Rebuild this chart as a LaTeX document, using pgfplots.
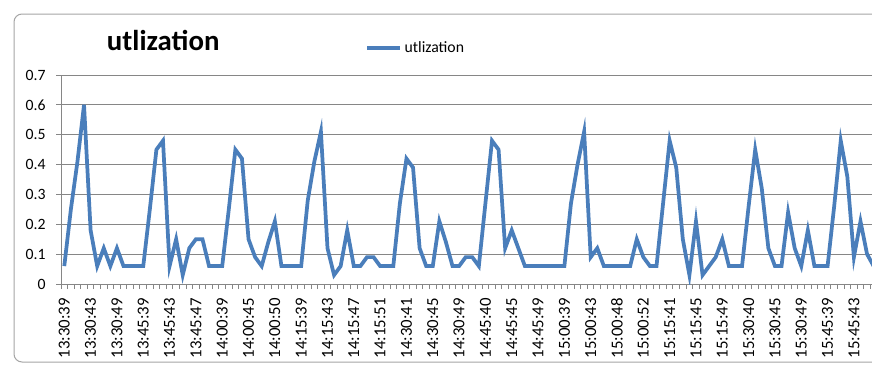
\documentclass[border=0pt]{standalone}
\usepackage{fontspec}
\setmainfont{Carlito}
\usepackage{pgfplots}
\pgfplotsset{compat=1.18}
\usepackage{pgfplotstable}

\definecolor{xlblue}{HTML}{4A7EBB}
\definecolor{xlgrid}{HTML}{868686}
\definecolor{xlframe}{HTML}{A5A5A5}

% utilisation samples, one per category (index 0..123)
\pgfplotstableread{
idx util
0 0.06
1 0.25
2 0.41
3 0.60
4 0.18
5 0.06
6 0.12
7 0.06
8 0.12
9 0.06
10 0.06
11 0.06
12 0.06
13 0.25
14 0.45
15 0.48
16 0.06
17 0.15
18 0.03
19 0.12
20 0.15
21 0.15
22 0.06
23 0.06
24 0.06
25 0.25
26 0.45
27 0.42
28 0.15
29 0.09
30 0.06
31 0.14
32 0.21
33 0.06
34 0.06
35 0.06
36 0.06
37 0.28
38 0.41
39 0.51
40 0.12
41 0.03
42 0.06
43 0.18
44 0.06
45 0.06
46 0.09
47 0.09
48 0.06
49 0.06
50 0.06
51 0.27
52 0.42
53 0.39
54 0.12
55 0.06
56 0.06
57 0.21
58 0.14
59 0.06
60 0.06
61 0.09
62 0.09
63 0.06
64 0.27
65 0.48
66 0.45
67 0.12
68 0.18
69 0.12
70 0.06
71 0.06
72 0.06
73 0.06
74 0.06
75 0.06
76 0.06
77 0.27
78 0.40
79 0.51
80 0.09
81 0.12
82 0.06
83 0.06
84 0.06
85 0.06
86 0.06
87 0.15
88 0.09
89 0.06
90 0.06
91 0.27
92 0.48
93 0.39
94 0.15
95 0.03
96 0.21
97 0.03
98 0.06
99 0.09
100 0.15
101 0.06
102 0.06
103 0.06
104 0.26
105 0.45
106 0.32
107 0.12
108 0.06
109 0.06
110 0.24
111 0.12
112 0.06
113 0.18
114 0.06
115 0.06
116 0.06
117 0.26
118 0.48
119 0.36
120 0.09
121 0.21
122 0.10
123 0.06
}\utildata

\begin{document}
\begin{tikzpicture}
\path[use as bounding box] (0,0) rectangle (654pt,276.75pt);
\clip (0,0) rectangle (654pt,276.75pt);
\fill[white] (0,0) rectangle (654pt,276.75pt);
% chart area frame (cut off on the right)
\draw[xlframe, line width=0.75pt, rounded corners=6pt]
  (670pt,5.25pt) -- (10.5pt,5.25pt) -- (10.5pt,266.25pt) -- (670pt,266.25pt);

\begin{axis}[
  at={(45.75pt,63.75pt)}, anchor=south west,
  scale only axis,
  width=608.25pt, height=156.75pt,
  xmin=-0.5, xmax=122.75,
  ymin=0, ymax=0.7,
  axis x line*=bottom, axis y line*=left,
  axis line style={xlgrid, line width=0.75pt},
  tick align=outside,
  major tick length=0pt,
  minor tick length=3.75pt,
  tick style={xlgrid, line width=0.75pt},
  ytick={0,0.1,0.2,0.3,0.4,0.5,0.6,0.7},
  yticklabels={0,0.1,0.2,0.3,0.4,0.5,0.6,0.7},
  minor ytick={0,0.1,0.2,0.3,0.4,0.5,0.6,0.7},
  ymajorgrids,
  major grid style={xlgrid, line width=0.75pt},
  xtick={0,4,...,120},
  xticklabels={13:30:39,13:30:43,13:30:49,13:45:39,13:45:43,13:45:47,14:00:39,14:00:45,14:00:50,14:15:39,14:15:43,14:15:47,14:15:51,14:30:41,14:30:45,14:30:49,14:45:40,14:45:45,14:45:49,15:00:39,15:00:43,15:00:48,15:00:52,15:15:41,15:15:45,15:15:49,15:30:40,15:30:45,15:30:49,15:45:39,15:45:43},
  minor xtick={-0.5,0.5,...,122.5},
  ticklabel style={font=\fontsize{11.8}{14}\selectfont, text=black},
  xticklabel style={rotate=90, anchor=east, font=\fontsize{12.6}{14}\selectfont},
  xticklabel shift=7pt,
  yticklabel shift=8pt,
  title={utlization},
  title style={at={(0.126,1.077)}, anchor=base, yshift=0pt,
    font=\fontsize{21.6}{26}\selectfont\bfseries},
  legend style={at={(0.3748,1.128)}, anchor=west, draw=none, fill=none,
    inner sep=0pt, font=\fontsize{11.8}{14}\selectfont},
  legend image code/.code={\draw[#1] (0pt,0pt) -- (24.75pt,0pt);},
  legend cell align=left,
]
\addplot[xlblue, line width=2.8pt] table[x=idx, y=util] {\utildata};
\addlegendentry{utlization}
\end{axis}
\end{tikzpicture}
\end{document}
